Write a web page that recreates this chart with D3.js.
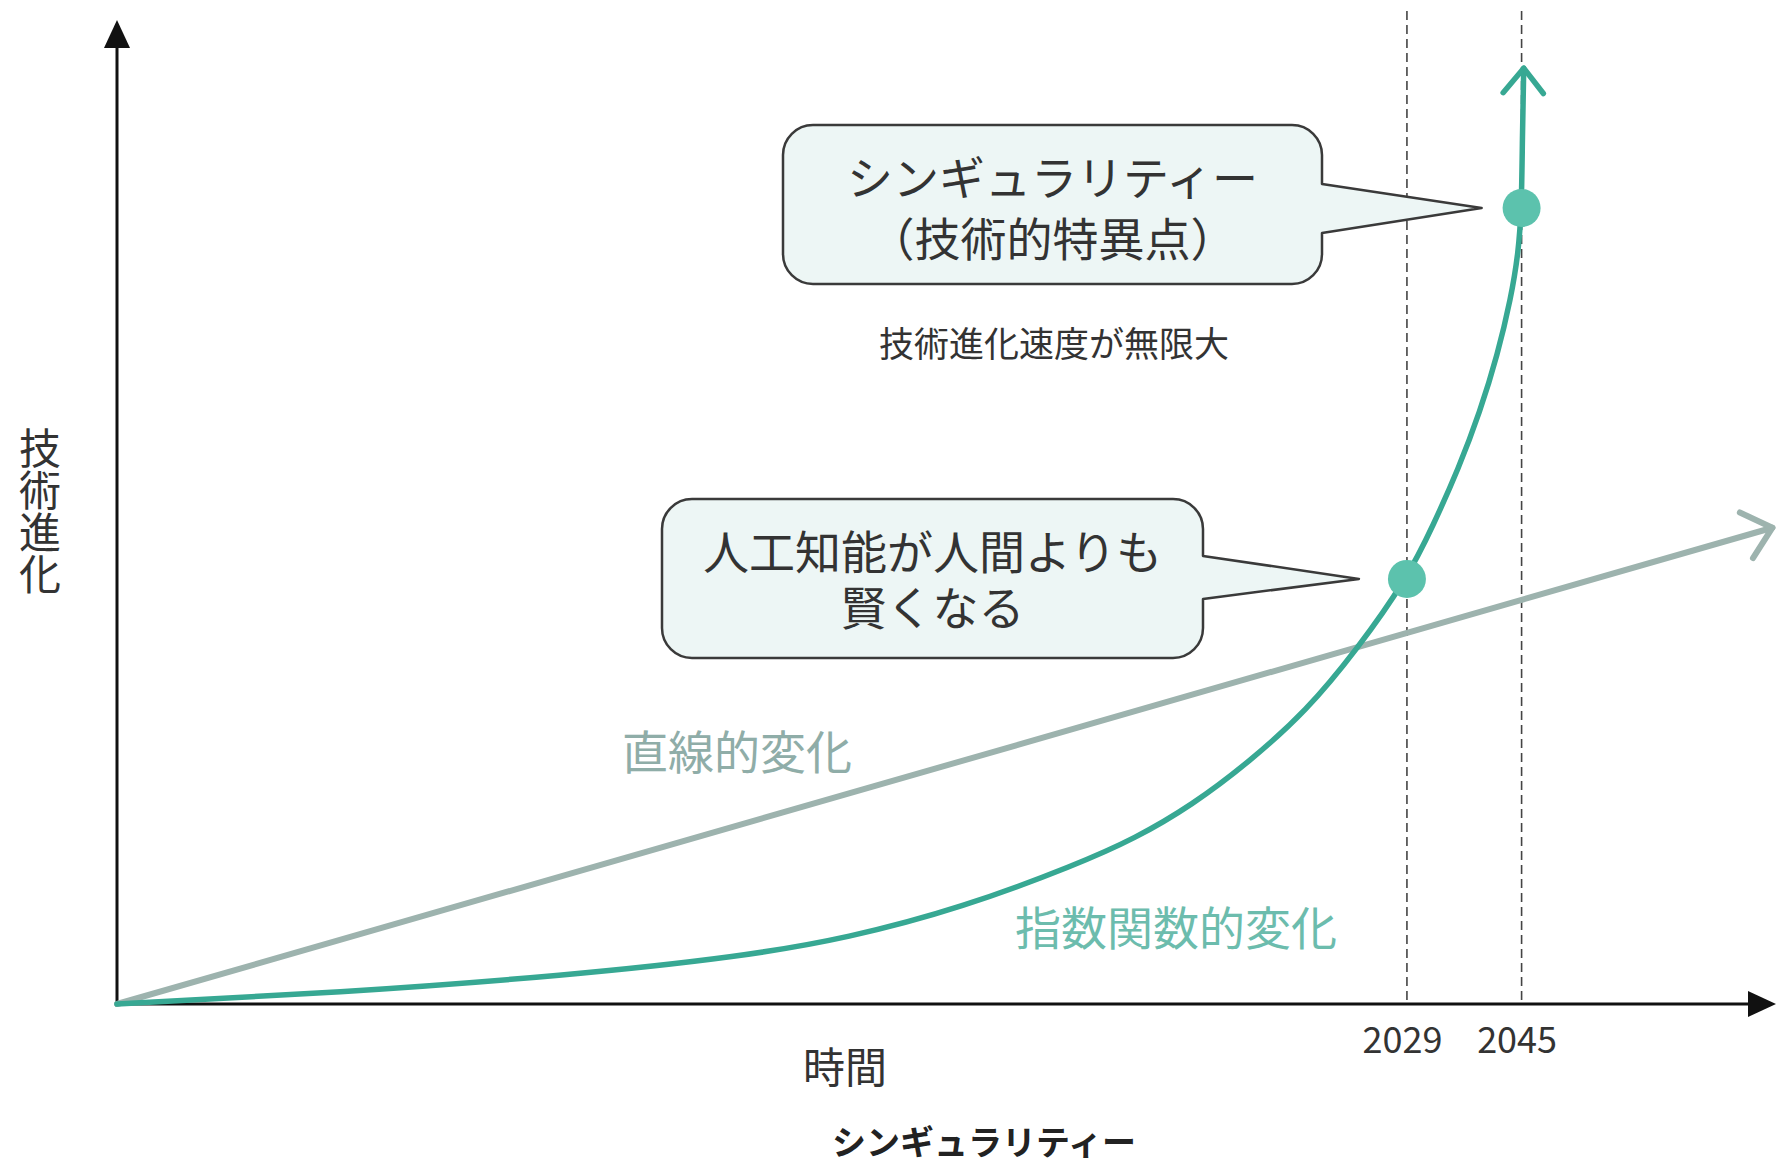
<!DOCTYPE html>
<html>
<head>
<meta charset="utf-8">
<script src="https://cdn.jsdelivr.net/npm/d3@7"></script>
<style>
  body { margin: 0; background: #fff; }
</style>
</head>
<body>
<svg id="chart" width="1779" height="1163"></svg>
<script>
// 指数関数的変化（年, 技術進化 0〜100）
const expYears  = [1849, 1880, 1912, 1936, 1951, 1967, 1983, 1991, 1999, 2007, 2015, 2022, 2029,
                   2032.7, 2036.2, 2039.2, 2041.65, 2043.5, 2044.55, 2045, 2045.1, 2045.3];
const expValues = [0, 1.15, 2.9, 4.8, 6.7, 9.8, 14.2, 16.8, 20.2, 24.6, 29.8, 36.0, 43.2,
                   48.7, 54.4, 60.2, 66.0, 71.7, 76.3, 80.9, 87.8, 95.1];
// 直線的変化
const linYears  = [1849, 2080];
const linValues = [0, 48.4];
// 目盛り
const milestoneYears = [2029, 2045];
const calloutTexts = [["人工知能が人間よりも", "賢くなる"], ["シンギュラリティー", "（技術的特異点）"]];

const svg = d3.select("#chart");
const font = '"Noto Sans CJK JP", "Noto Sans", sans-serif';

const x = d3.scaleLinear().domain([1849, 2080.5]).range([117, 1776]);
const y = d3.scaleLinear().domain([0, 100]).range([1004, 20]);

const expData = expYears.map((d, i) => ({ year: d, v: expValues[i] }));
const linData = linYears.map((d, i) => ({ year: d, v: linValues[i] }));
const dots = milestoneYears.map(yr => ({ year: yr, v: expValues[expYears.indexOf(yr)] }));

// 点線
svg.append("g")
    .selectAll("line")
    .data(milestoneYears)
    .enter().append("line")
    .attr("x1", d => x(d)).attr("x2", d => x(d))
    .attr("y1", 11).attr("y2", y(0))
    .attr("stroke", "#444")
    .attr("stroke-width", 1.6)
    .attr("stroke-dasharray", "9,5");

// 軸
const axisColor = "#111";
svg.append("line")
    .attr("x1", x(1849)).attr("y1", y(0))
    .attr("x2", x(1849)).attr("y2", y(100) + 20)
    .attr("stroke", axisColor).attr("stroke-width", 3);
svg.append("path")
    .attr("d", `M${x(1849)},${y(100)} L${x(1849) - 13},${y(100) + 28} L${x(1849) + 13},${y(100) + 28} Z`)
    .attr("fill", axisColor);
svg.append("line")
    .attr("x1", x(1849)).attr("y1", y(0))
    .attr("x2", x(2080.5) - 20).attr("y2", y(0))
    .attr("stroke", axisColor).attr("stroke-width", 3);
svg.append("path")
    .attr("d", `M${x(2080.5)},${y(0)} L${x(2080.5) - 28},${y(0) - 13} L${x(2080.5) - 28},${y(0) + 13} Z`)
    .attr("fill", axisColor);

// 目盛りラベル
const xAxis = svg.append("g")
    .attr("transform", `translate(0,${y(0)})`)
    .call(d3.axisBottom(x).tickValues(milestoneYears).tickSize(0).tickPadding(23).tickFormat(d3.format("d")));
xAxis.select(".domain").remove();
xAxis.selectAll("text")
    .attr("dx", -5)
    .style("font-family", font)
    .style("font-size", "36px")
    .style("fill", "#333");

// 吹き出し
function calloutPath(b, tx, ty) {
    const r = b.r;
    return `M${b.x0 + r},${b.y0} H${b.x1 - r} A${r},${r} 0 0 1 ${b.x1},${b.y0 + r} V${b.by0} ` +
        `L${tx},${ty} L${b.x1},${b.by1} V${b.y1 - r} A${r},${r} 0 0 1 ${b.x1 - r},${b.y1} ` +
        `H${b.x0 + r} A${r},${r} 0 0 1 ${b.x0},${b.y1 - r} V${b.y0 + r} A${r},${r} 0 0 1 ${b.x0 + r},${b.y0} Z`;
}
const boxes = [
    { x0: 662, y0: 499, x1: 1203, y1: 658, r: 30, by0: 556, by1: 599, off: 48, lines: [553, 609] },
    { x0: 783, y0: 125, x1: 1322, y1: 284, r: 30, by0: 184, by1: 233, off: 40, lines: [179, 240] }
];
boxes.forEach((b, i) => {
    const d = dots[i];
    svg.append("path")
        .attr("d", calloutPath(b, x(d.year) - b.off, y(d.v)))
        .attr("fill", "#edf6f5")
        .attr("stroke", "#3a3a3a")
        .attr("stroke-width", 2.5)
        .attr("stroke-linejoin", "round");
    const t = svg.append("text")
        .attr("text-anchor", "middle")
        .style("font-family", font)
        .style("font-size", "46px")
        .style("fill", "#333");
    calloutTexts[i].forEach((s, j) => {
        t.append("tspan")
            .attr("x", (b.x0 + b.x1) / 2)
            .attr("y", b.lines[j] + 16)
            .text(s);
    });
});

// 直線的変化
const line = d3.line().x(d => x(d.year)).y(d => y(d.v));
svg.append("path")
    .datum(linData)
    .attr("d", line)
    .attr("fill", "none")
    .attr("stroke", "#9db3ae")
    .attr("stroke-width", 6)
    .attr("stroke-linecap", "round");

// 指数関数的変化
const curve = d3.line().x(d => x(d.year)).y(d => y(d.v)).curve(d3.curveBasis);
svg.append("path")
    .datum(expData)
    .attr("d", curve)
    .attr("fill", "none")
    .attr("stroke", "#37a893")
    .attr("stroke-width", 5.5)
    .attr("stroke-linecap", "round");

// 矢印（開いた形）
function chevron(data, color, width, len, ang) {
    const a = data[data.length - 1], b = data[data.length - 2];
    const tx = x(a.year), ty = y(a.v);
    const dir = Math.atan2(ty - y(b.v), tx - x(b.year));
    const p1 = [tx - len * Math.cos(dir - ang), ty - len * Math.sin(dir - ang)];
    const p2 = [tx - len * Math.cos(dir + ang), ty - len * Math.sin(dir + ang)];
    svg.append("path")
        .attr("d", `M${p1[0]},${p1[1]} L${tx},${ty} L${p2[0]},${p2[1]}`)
        .attr("fill", "none")
        .attr("stroke", color)
        .attr("stroke-width", width)
        .attr("stroke-linecap", "round")
        .attr("stroke-linejoin", "round");
}
chevron(linData, "#9db3ae", 6, 36, 0.72);
chevron(expData, "#37a893", 5.5, 32, 0.68);

// 点
svg.append("g")
    .selectAll("circle")
    .data(dots)
    .enter().append("circle")
    .attr("cx", d => x(d.year))
    .attr("cy", d => y(d.v))
    .attr("r", 19)
    .attr("fill", "#5cc2ad");

// ラベル
function label(t, cx, cy, size, color, weight) {
    return svg.append("text")
        .attr("x", cx).attr("y", cy)
        .attr("text-anchor", "middle")
        .attr("dominant-baseline", "central")
        .style("font-family", font)
        .style("font-size", size + "px")
        .style("font-weight", weight || 400)
        .style("fill", color)
        .text(t);
}
label("技術進化速度が無限大", 1054, 341, 35, "#333");
label("直線的変化", 737, 749, 46, "#8fada8");
label("指数関数的変化", 1176, 925, 46, "#6cbcad");
label("時間", 845, 1064, 42, "#333");
label("シンギュラリティー", 984, 1140, 34, "#222", 700);

// 縦軸ラベル（縦書き）
svg.append("text")
    .attr("x", 40).attr("y", 511)
    .attr("text-anchor", "middle")
    .style("writing-mode", "vertical-rl")
    .style("font-family", font)
    .style("font-size", "42px")
    .style("fill", "#333")
    .text("技術進化");
</script>
</body>
</html>
